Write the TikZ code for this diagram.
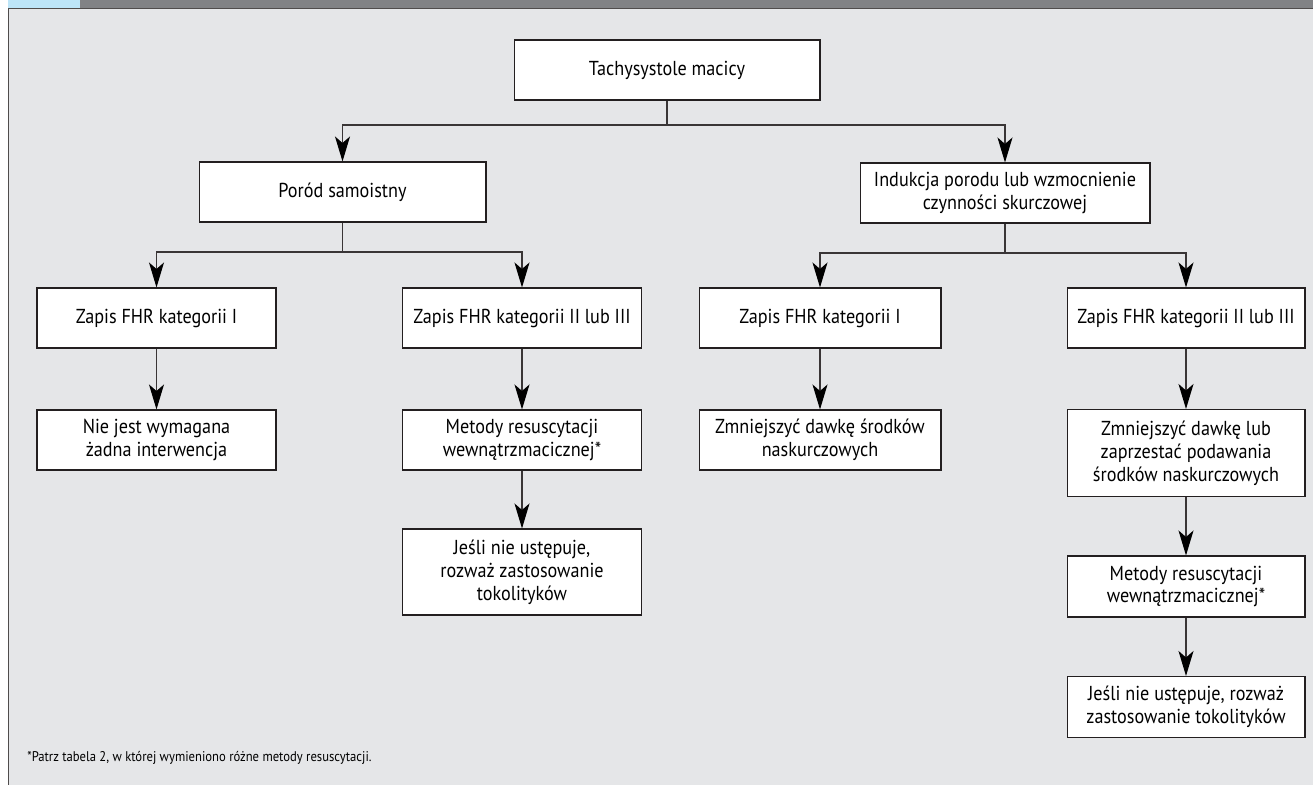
\documentclass[tikz,border=0pt]{standalone}
\usepackage{fontspec}
\setmainfont{PT Sans}[FakeStretch=0.9]
\usetikzlibrary{arrows.meta,positioning}
\definecolor{panel}{HTML}{E5E6E8}
\definecolor{bar}{HTML}{818285}
\definecolor{tab}{HTML}{BDE5F8}
\definecolor{ink}{HTML}{231F20}
\tikzset{
	box/.style={draw=ink,fill=white,rectangle,align=center,inner sep=2pt,line width=0.6pt,minimum height=1.2cm,font=\fontsize{11.5}{13}\selectfont},
	link/.style={draw=ink!90,line width=0.75pt},
	>={Stealth[length=0.5cm,width=0.3cm,inset=0.13cm,black]}
}
\begin{document}
\begin{tikzpicture}[x=0.02cm,y=-0.02cm]
	\useasboundingbox (0,0) rectangle (1313,785);
	% frame
	\fill[panel] (8,8) rectangle (1313,785);
	\fill[tab] (8,0) rectangle (80,8);
	\fill[bar] (80,0) rectangle (1313,8);
	\draw[ink!80,line width=0.8pt] (8.5,785) -- (8.5,8.5) -- (1313,8.5);

	\node[box,minimum width=6.12cm] (top) at (667,70) {Tachysystole macicy};
	\node[box,minimum width=5.74cm] (por) at (342.5,192) {Poród samoistny};
	\node[box,minimum width=5.8cm] (ind) at (1005,193) {Indukcja porodu lub wzmocnienie\\czynności skurczowej};

	\node[box,minimum width=4.78cm] (z1) at (156.5,318) {Zapis FHR kategorii I};
	\node[box,minimum width=4.78cm] (z2) at (522,318) {Zapis FHR kategorii II lub III};
	\node[box,minimum width=4.84cm] (z3) at (820,318) {Zapis FHR kategorii I};
	\node[box,minimum width=4.76cm] (z4) at (1186,318) {Zapis FHR kategorii II lub III};

	\node[box,minimum width=4.78cm] (nie) at (156.5,440) {Nie jest wymagana\\żadna interwencja};
	\node[box,minimum width=4.78cm] (met1) at (522,440) {Metody resuscytacji\\wewnątrzmacicznej*};
	\node[box,minimum width=4.78cm,minimum height=1.72cm] (jes1) at (522,572) {Jeśli nie ustępuje,\\rozważ zastosowanie\\tokolityków};
	\node[box,minimum width=4.84cm] (zm1) at (820,440) {Zmniejszyć dawkę środków\\naskurczowych};
	\node[box,minimum width=4.76cm,minimum height=1.74cm] (zm2) at (1186,453) {Zmniejszyć dawkę lub\\zaprzestać podawania\\środków naskurczowych};
	\node[box,minimum width=4.76cm,minimum height=1.22cm] (met2) at (1186,586.5) {Metody resuscytacji\\wewnątrzmacicznej*};
	\node[box,minimum width=4.76cm,minimum height=1.22cm] (jes2) at (1186,707) {Jeśli nie ustępuje, rozważ\\zastosowanie tokolityków};

	\node[anchor=west,inner sep=0pt,font=\fontsize{8}{9}\selectfont] (note) at (27,758) {*Patrz tabela 2, w której wymieniono różne metody resuscytacji.};

	\coordinate (a) at (667,125);
	\coordinate (b) at (342.5,252);
	\coordinate (c) at (1005,253);

	\draw[link] (top) -- (a);
	\draw[link,->] (a) -| (por);
	\draw[link,->] (a) -| (ind);
	\draw[link] (por) -- (b);
	\draw[link,->] (b) -| (z1);
	\draw[link,->] (b) -| (z2);
	\draw[link] (ind) -- (c);
	\draw[link,->] (c) -| (z3);
	\draw[link,->] (c) -| (z4);

	\draw[link,->] (z1) -- (nie);
	\draw[link,->] (z2) -- (met1);
	\draw[link,->] (met1) -- (jes1);
	\draw[link,->] (z3) -- (zm1);
	\draw[link,->] (z4) -- (zm2);
	\draw[link,->] (zm2) -- (met2);
	\draw[link,->] (met2) -- (jes2);
\end{tikzpicture}
\end{document}
